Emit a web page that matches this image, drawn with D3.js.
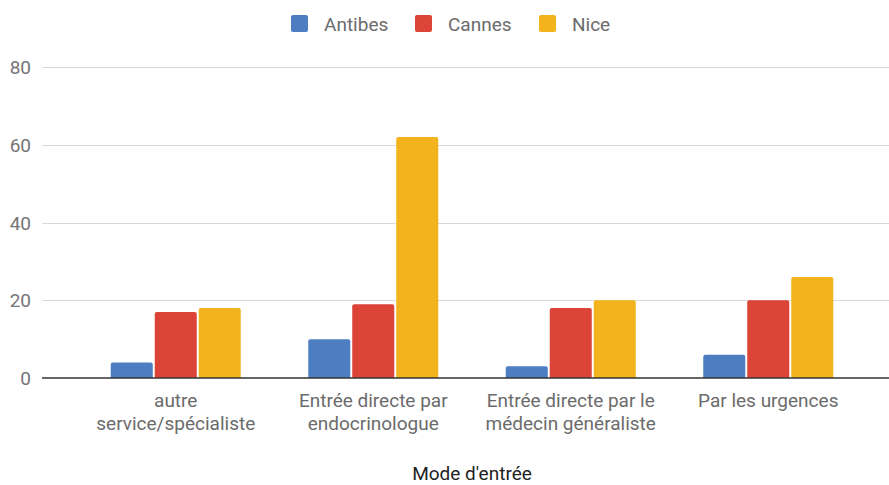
<!DOCTYPE html>
<html>
<head>
<meta charset="utf-8">
<script src="https://cdn.jsdelivr.net/npm/d3@7"></script>
<style>
  body { margin: 0; background: #fff; }
  text { font-family: Roboto, sans-serif; }
</style>
</head>
<body>
<div id="chart"></div>
<script>
// categories on the x axis (lines split for wrapping)
const categories = [
  'autre service/spécialiste',
  'Entrée directe par endocrinologue',
  'Entrée directe par le médecin généraliste',
  'Par les urgences'
]
const categoryLines = [
  ['autre', 'service/spécialiste'],
  ['Entrée directe par', 'endocrinologue'],
  ['Entrée directe par le', 'médecin généraliste'],
  ['Par les urgences']
]
const seriesNames = ['Antibes', 'Cannes', 'Nice']
const antibes = [4, 10, 3, 6]
const cannes = [17, 19, 18, 20]
const nice = [18, 62, 20, 26]
const yTicks = [0, 20, 40, 60, 80]
const colors = ['#4e7ec2', '#db4437', '#f2b31d']

const width = 889
const height = 485
const series = [antibes, cannes, nice]

const svg = d3.select('#chart')
  .append('svg')
  .attr('width', width)
  .attr('height', height)

const y = d3.scaleLinear().domain([0, 80]).range([378, 67])

const x = d3.scaleBand()
  .domain(categories)
  .range([77, 867])
  .paddingInner(0)
  .paddingOuter(0)

const inner = d3.scaleBand()
  .domain(seriesNames)
  .range([0, 130])
  .paddingInner(0.045)

// gridlines
svg.append('g')
  .selectAll('line')
  .data(yTicks.filter(d => d !== 0))
  .enter()
  .append('line')
  .attr('x1', 42)
  .attr('x2', width)
  .attr('y1', d => Math.round(y(d)) + 0.5)
  .attr('y2', d => Math.round(y(d)) + 0.5)
  .attr('stroke', '#d9d9d9')
  .attr('stroke-width', 1)

// y tick labels
svg.append('g')
  .selectAll('text')
  .data(yTicks)
  .enter()
  .append('text')
  .attr('x', 31)
  .attr('y', d => y(d) + 7)
  .attr('text-anchor', 'end')
  .attr('font-size', 19)
  .attr('fill', '#757575')
  .text(d => d)

// bars with rounded tops
function barPath (x0, w, yTop, yBase) {
  const r = Math.min(2, (yBase - yTop) / 2)
  return `M${x0},${yBase}V${yTop + r}Q${x0},${yTop} ${x0 + r},${yTop}` +
    `H${x0 + w - r}Q${x0 + w},${yTop} ${x0 + w},${yTop + r}V${yBase}Z`
}

const groups = svg.append('g')
  .selectAll('g')
  .data(categories)
  .enter()
  .append('g')
  .attr('transform', d => `translate(${x(d) + (x.bandwidth() - 130) / 2},0)`)

groups.selectAll('path')
  .data((d, i) => series.map((s, j) => ({ name: seriesNames[j], value: s[i], color: colors[j] })))
  .enter()
  .append('path')
  .attr('d', d => barPath(inner(d.name), inner.bandwidth(), y(d.value), y(0)))
  .attr('fill', d => d.color)

// baseline
svg.append('line')
  .attr('x1', 42)
  .attr('x2', width)
  .attr('y1', y(0))
  .attr('y2', y(0))
  .attr('stroke', '#333')
  .attr('stroke-width', 1.5)

// x labels
const xl = svg.append('g')
  .selectAll('text')
  .data(categories)
  .enter()
  .append('text')
  .attr('x', d => x(d) + x.bandwidth() / 2)
  .attr('y', 407)
  .attr('text-anchor', 'middle')
  .attr('font-size', 19)
  .attr('fill', '#6b6b6b')

xl.selectAll('tspan')
  .data((d, i) => categoryLines[i])
  .enter()
  .append('tspan')
  .attr('x', function () { return d3.select(this.parentNode).attr('x') })
  .attr('dy', (d, i) => i === 0 ? 0 : 23)
  .text(d => d)

// axis title
svg.append('text')
  .attr('x', 472)
  .attr('y', 480)
  .attr('text-anchor', 'middle')
  .attr('font-size', 19)
  .attr('fill', '#222')
  .text("Mode d'entrée")

// legend
const legendX = [291, 415, 539]
const legend = svg.append('g')
  .selectAll('g')
  .data(seriesNames)
  .enter()
  .append('g')
  .attr('transform', (d, i) => `translate(${legendX[i]},15)`)

legend.append('rect')
  .attr('width', 17)
  .attr('height', 17)
  .attr('rx', 2)
  .attr('fill', (d, i) => colors[i])

legend.append('text')
  .attr('x', 33)
  .attr('y', 16)
  .attr('font-size', 19)
  .attr('fill', '#6b6b6b')
  .text(d => d)
</script>
</body>
</html>
